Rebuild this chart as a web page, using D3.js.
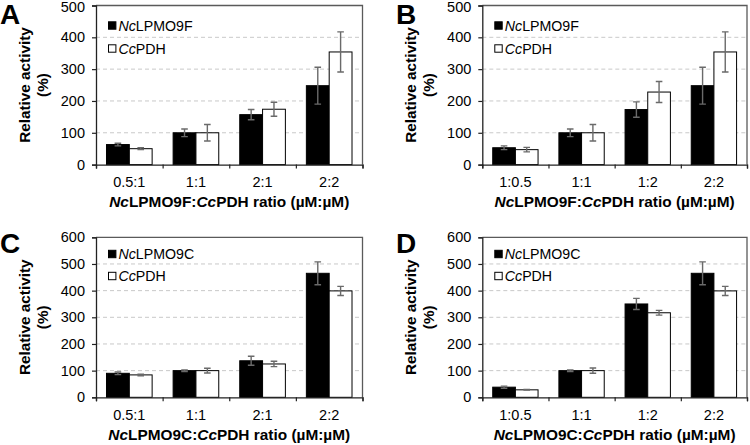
<!DOCTYPE html>
<html>
<head>
<meta charset="utf-8">
<script src="https://cdn.jsdelivr.net/npm/d3@7"></script>
<style>
  html, body { margin: 0; padding: 0; background: #fff; }
  svg { display: block; font-family: Arial, "Liberation Sans", sans-serif; }
</style>
</head>
<body>
<svg id="chart" width="750" height="445"></svg>
<script>
// ---------- data ----------
const categoriesA = ["0.5:1", "1:1", "2:1", "2:2"];
const categoriesB = ["1:0.5", "1:1", "1:2", "2:2"];
const categoriesC = ["0.5:1", "1:1", "2:1", "2:2"];
const categoriesD = ["1:0.5", "1:1", "1:2", "2:2"];

const lpmoA = [63, 100, 157, 248];
const lpmoErrA = [4, 12, 16, 58];
const pdhA = [50, 100, 174, 354];
const pdhErrA = [3, 26, 22, 63];

const lpmoB = [53, 100, 173, 248];
const lpmoErrB = [6, 12, 24, 58];
const pdhB = [47, 100, 228, 354];
const pdhErrB = [7, 26, 33, 63];

const lpmoC = [90, 100, 137, 465];
const lpmoErrC = [5, 3, 17, 43];
const pdhC = [84, 100, 125, 399];
const pdhErrC = [3, 9, 10, 17];

const lpmoD = [38, 100, 350, 465];
const lpmoErrD = [4, 3, 21, 43];
const pdhD = [28, 100, 317, 399];
const pdhErrD = [1, 10, 9, 17];

const yTicksTop = [0, 100, 200, 300, 400, 500];
const yTicksBottom = [0, 100, 200, 300, 400, 500, 600];

const panels = [
  { letter: "A", cats: categoriesA, lpmo: lpmoA, lpmoErr: lpmoErrA, pdh: pdhA, pdhErr: pdhErrA,
    enzyme: "LPMO9F", ticks: yTicksTop, x0: 96, x1: 362.5, yTop: 5.5, yBot: 164.6, lx: 0, ly: 0, legTop: 20, legGap: 23 },
  { letter: "B", cats: categoriesB, lpmo: lpmoB, lpmoErr: lpmoErrB, pdh: pdhB, pdhErr: pdhErrB,
    enzyme: "LPMO9F", ticks: yTicksTop, x0: 482.3, x1: 747, yTop: 5.5, yBot: 164.6, lx: 396, ly: 0, legTop: 20, legGap: 23 },
  { letter: "C", cats: categoriesC, lpmo: lpmoC, lpmoErr: lpmoErrC, pdh: pdhC, pdhErr: pdhErrC,
    enzyme: "LPMO9C", ticks: yTicksBottom, x0: 96, x1: 362.5, yTop: 237.3, yBot: 397.3, lx: 0, ly: 229, legTop: 16.7, legGap: 22 },
  { letter: "D", cats: categoriesD, lpmo: lpmoD, lpmoErr: lpmoErrD, pdh: pdhD, pdhErr: pdhErrD,
    enzyme: "LPMO9C", ticks: yTicksBottom, x0: 482.3, x1: 747, yTop: 237.3, yBot: 397.3, lx: 396, ly: 229, legTop: 16.7, legGap: 22 }
];

const svg = d3.select("#chart");
const BOX = "#5a5a5a", ERR = "#6a6a6a", GRID = "#c9c9c9";
const FONT = "Arial, 'Liberation Sans', sans-serif";

panels.forEach(p => {
  const g = svg.append("g");
  const yMax = d3.max(p.ticks);
  const y = d3.scaleLinear().domain([0, yMax]).range([p.yBot, p.yTop]);
  const x = d3.scaleBand().domain(p.cats).range([p.x0, p.x1]).paddingInner(0.315).paddingOuter(0.1575);
  const sub = d3.scaleBand().domain(["lpmo", "pdh"]).range([0, x.bandwidth()]);
  const xb = d3.scaleLinear().domain([0, p.cats.length]).range([p.x0, p.x1]);

  // gridlines
  g.append("g").selectAll("line")
    .data(p.ticks.filter(t => t > 0 && t < yMax))
    .join("line")
    .attr("x1", p.x0).attr("x2", p.x1)
    .attr("y1", d => y(d)).attr("y2", d => y(d))
    .attr("stroke", GRID).attr("stroke-width", 1).attr("stroke-dasharray", "4,3");

  // box (top & right)
  g.append("path")
    .attr("d", `M${p.x0},${p.yTop}H${p.x1}V${p.yBot}`)
    .attr("fill", "none").attr("stroke", BOX).attr("stroke-width", 1.3);

  // bars
  const rows = p.cats.map((c, i) => [
    { cat: c, key: "lpmo", v: p.lpmo[i], e: p.lpmoErr[i] },
    { cat: c, key: "pdh", v: p.pdh[i], e: p.pdhErr[i] }
  ]).flat();

  g.append("g").selectAll("rect")
    .data(rows).join("rect")
    .attr("x", d => x(d.cat) + sub(d.key))
    .attr("y", d => y(d.v))
    .attr("width", sub.bandwidth())
    .attr("height", d => y(0) - y(d.v))
    .attr("fill", d => d.key === "lpmo" ? "#000" : "#fff")
    .attr("stroke", "#000").attr("stroke-width", 1);

  // error bars
  const eg = g.append("g").attr("stroke", ERR).attr("stroke-width", 1.4).attr("fill", "none");
  eg.selectAll("path").data(rows).join("path")
    .attr("d", d => {
      const cx = x(d.cat) + sub(d.key) + sub.bandwidth() / 2;
      const yh = y(d.v + d.e), yl = y(d.v - d.e), w = 3.3;
      return `M${cx},${yh}V${yl}M${cx - w},${yh}H${cx + w}M${cx - w},${yl}H${cx + w}`;
    });

  // y axis
  const ya = g.append("g").attr("transform", `translate(${p.x0},0)`)
    .call(d3.axisLeft(y).tickValues(p.ticks).tickSize(4).tickPadding(7).tickFormat(d3.format("d")));
  ya.select(".domain").attr("stroke", "#222").attr("stroke-width", 1.3);
  ya.selectAll(".tick line").attr("stroke", "#222").attr("stroke-width", 1.2);
  ya.selectAll("text").attr("font-size", 14.5).attr("fill", "#000").attr("font-family", FONT)
    .attr("y", d => d === yMax && p.yTop < 10 ? 1.2 : 0);

  // x axis boundary ticks
  const xa = g.append("g").attr("transform", `translate(0,${p.yBot})`)
    .call(d3.axisBottom(xb).tickValues(d3.range(0, p.cats.length + 1)).tickSize(4).tickFormat(""));
  xa.select(".domain").attr("stroke", "#222").attr("stroke-width", 1.3);
  xa.selectAll(".tick line").attr("stroke", "#222").attr("stroke-width", 1.2);

  // x axis labels
  const xl = g.append("g").attr("transform", `translate(0,${p.yBot})`)
    .call(d3.axisBottom(x).tickSize(0).tickPadding(12));
  xl.select(".domain").remove();
  xl.selectAll("text").attr("font-size", 14.5).attr("fill", "#000").attr("font-family", FONT);

  // x axis title
  const xt = g.append("text")
    .attr("x", (p.x0 + p.x1) / 2).attr("y", p.yBot + 42.5)
    .attr("text-anchor", "middle").attr("font-weight", "bold").attr("font-size", 15.4);
  xt.append("tspan").attr("font-style", "italic").text("Nc");
  xt.append("tspan").text(p.enzyme + ":");
  xt.append("tspan").attr("font-style", "italic").text("Cc");
  xt.append("tspan").text("PDH ratio (µM:µM)");

  // y axis title
  const cy = (p.yTop + p.yBot) / 2;
  const yt = g.append("text")
    .attr("transform", `translate(${p.x0 - 66},${cy}) rotate(-90)`)
    .attr("text-anchor", "middle").attr("font-weight", "bold").attr("font-size", 15.3);
  yt.append("tspan").attr("x", 0).attr("dy", 0).text("Relative activity");
  yt.append("tspan").attr("x", 0).attr("dy", 17.5).text("(%)");

  // legend
  const leg = [
    { key: "lpmo", fill: "#000", parts: [["Nc", true], [p.enzyme, false]] },
    { key: "pdh", fill: "#fff", parts: [["Cc", true], ["PDH", false]] }
  ];
  const lg = g.append("g");
  leg.forEach((l, i) => {
    const ly = p.yTop + p.legTop + i * p.legGap;
    lg.append("rect").attr("x", p.x0 + 12.5).attr("y", ly - 3.7).attr("width", 7.4).attr("height", 7.4)
      .attr("fill", l.fill).attr("stroke", "#000").attr("stroke-width", 1);
    const t = lg.append("text").attr("x", p.x0 + 22.5).attr("y", ly + 5.2).attr("font-size", 14.2);
    l.parts.forEach(pt => t.append("tspan").attr("font-style", pt[1] ? "italic" : "normal").text(pt[0]));
  });

  // panel letter
  svg.append("text").attr("x", p.lx).attr("y", p.ly + 24)
    .attr("font-size", 28).attr("font-weight", "bold").text(p.letter);
});
</script>
</body>
</html>
